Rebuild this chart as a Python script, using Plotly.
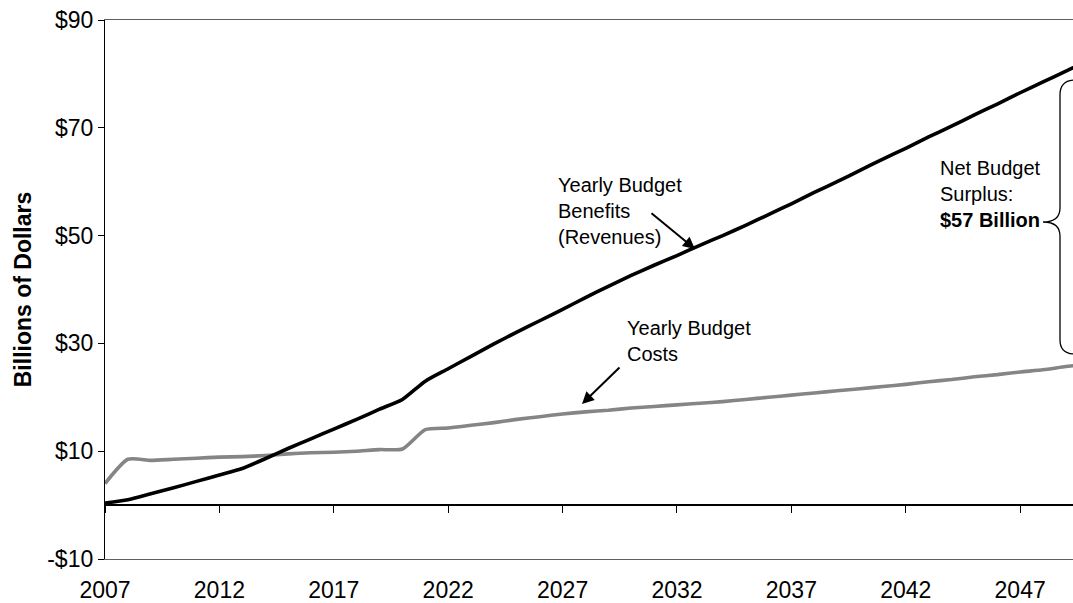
import plotly.graph_objects as go

# ---------------- data ----------------
years = list(range(2007, 2051))
benefits = [0.4, 1.0, 2.1, 3.2, 4.4, 5.6, 6.8, 8.6, 10.5, 12.3,
            14.1, 15.9, 17.8, 19.6, 23.0, 25.3, 27.6, 29.9, 32.1, 34.2,
            36.3, 38.5, 40.6, 42.6, 44.5, 46.3, 48.2, 50.0, 51.9, 53.9,
            55.9, 58.0, 60.0, 62.1, 64.2, 66.2, 68.3, 70.3, 72.4, 74.4,
            76.5, 78.5, 80.5, 82.6]
costs = [4.0, 8.5, 8.3, 8.5, 8.7, 8.9, 9.0, 9.2, 9.5, 9.7,
         9.8, 10.0, 10.3, 10.4, 14.0, 14.3, 14.8, 15.3, 15.9, 16.4,
         16.9, 17.3, 17.6, 18.0, 18.3, 18.6, 18.9, 19.2, 19.6, 20.0,
         20.4, 20.8, 21.2, 21.6, 22.0, 22.4, 22.9, 23.3, 23.8, 24.2,
         24.7, 25.1, 25.7, 26.2]
x_ticks = [2007, 2012, 2017, 2022, 2027, 2032, 2037, 2042, 2047]
y_ticks = [-10, 10, 30, 50, 70, 90]
y_ticktext = ["-$10", "$10", "$30", "$50", "$70", "$90"]

# ---------------- layout geometry ----------------
W, H = 1073, 603
L, R, T, B = 105, 0, 20, 44
X0, X1 = 2007, 2049.31
Y0, Y1 = -10, 90
pw, ph = W - L - R, H - T - B

def px2x(px):
    return X0 + (px - L) / pw * (X1 - X0)

def py2y(py):
    return Y1 - (py - T) / ph * (Y1 - Y0)

def pxp(px):  # pixel -> paper fraction (x)
    return (px - L) / pw

def pyp(py):  # pixel -> paper fraction (y)
    return (H - B - py) / ph

FONT = "Arial, Liberation Sans, sans-serif"

fig = go.Figure()
fig.add_trace(go.Scatter(x=years, y=costs, mode="lines",
                         line=dict(color="#858585", width=3.6, shape="spline", smoothing=0.6),
                         hoverinfo="skip", showlegend=False))
fig.add_trace(go.Scatter(x=years, y=benefits, mode="lines",
                         line=dict(color="#000000", width=3.6, shape="spline", smoothing=0.6),
                         hoverinfo="skip", showlegend=False))
# invisible trace to carry the zero-line axis with tick marks
fig.add_trace(go.Scatter(x=x_ticks, y=[0] * len(x_ticks), xaxis="x2", mode="markers",
                         marker=dict(opacity=0), hoverinfo="skip", showlegend=False))

annotations = [
    dict(x=px2x(556), y=py2y(172), xref="x", yref="y", xanchor="left", yanchor="top",
         align="left", showarrow=False,
         text="Yearly Budget<br>Benefits<br>(Revenues)",
         font=dict(family=FONT, size=20, color="black")),
    dict(x=px2x(695), y=py2y(249), ax=px2x(650), ay=py2y(212), xref="x", yref="y",
         axref="x", ayref="y", showarrow=True, arrowhead=2, arrowsize=1.2,
         arrowwidth=2, arrowcolor="black", text=""),
    dict(x=px2x(625), y=py2y(315), xref="x", yref="y", xanchor="left", yanchor="top",
         align="left", showarrow=False,
         text="Yearly Budget<br>Costs",
         font=dict(family=FONT, size=20, color="black")),
    dict(x=px2x(582), y=py2y(404), ax=px2x(621), ay=py2y(366), xref="x", yref="y",
         axref="x", ayref="y", showarrow=True, arrowhead=2, arrowsize=1.2,
         arrowwidth=2, arrowcolor="black", text=""),
    dict(x=px2x(938), y=py2y(155), xref="x", yref="y", xanchor="left", yanchor="top",
         align="left", showarrow=False,
         text="Net Budget<br>Surplus:<br><b>$57 Billion</b>",
         font=dict(family=FONT, size=20, color="black")),
]

# curly brace in paper coordinates
def P(px, py):
    return f"{pxp(px):.5f},{pyp(py):.5f}"

brace = (f"M{P(1075, 80)} Q{P(1060, 80)} {P(1060, 95)} L{P(1060, 208)} "
         f"Q{P(1060, 222)} {P(1043, 222)} Q{P(1060, 222)} {P(1060, 236)} "
         f"L{P(1060, 340)} Q{P(1060, 354)} {P(1075, 354)}")
shapes = [dict(type="path", path=brace, xref="paper", yref="paper", layer="above",
               line=dict(color="black", width=1.3))]

fig.update_layout(
    width=W, height=H,
    margin=dict(l=L, r=R, t=T, b=B, autoexpand=False),
    paper_bgcolor="white", plot_bgcolor="white",
    font=dict(family=FONT, size=23, color="black"),
    xaxis=dict(range=[X0, X1], tickvals=x_ticks, ticktext=[str(v) for v in x_ticks],
               showline=True, linecolor="#606060", linewidth=1.3, mirror=True,
               ticks="outside", ticklen=10, tickcolor="rgba(0,0,0,0)",
               showgrid=False, zeroline=False, automargin=False,
               tickfont=dict(family=FONT, size=23, color="black")),
    xaxis2=dict(range=[X0, X1], overlaying="x", anchor="free", position=0.1,
                side="bottom", tickvals=x_ticks, showticklabels=False,
                showline=True, linecolor="black", linewidth=1.5,
                ticks="outside", ticklen=7, tickwidth=1.3, tickcolor="black",
                showgrid=False, zeroline=False, automargin=False),
    yaxis=dict(range=[Y0, Y1], tickvals=y_ticks, ticktext=y_ticktext,
               showline=True, linecolor="black", linewidth=1.3,
               ticks="outside", ticklen=6, tickwidth=1.3, tickcolor="black",
               showgrid=False, zeroline=False, automargin=False,
               tickfont=dict(family=FONT, size=23, color="black"),
               title=dict(text="<b>Billions of Dollars</b>",
                          font=dict(family=FONT, size=23, color="black"),
                          standoff=9)),
    annotations=annotations,
    shapes=shapes,
)

fig.write_html("out.html",
               config={"displayModeBar": False},
               post_script="document.body.style.margin='0';"
                           "document.body.style.overflow='hidden';")
